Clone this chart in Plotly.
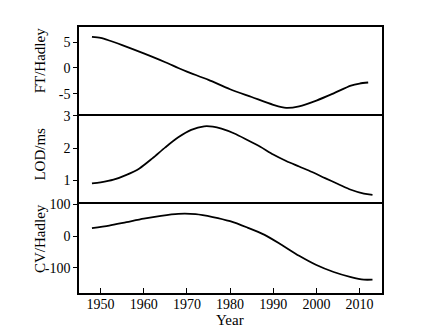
import plotly.graph_objects as go
from plotly.subplots import make_subplots

ft_years = [1948, 1950, 1952, 1955, 1960, 1965, 1968, 1970, 1975, 1980, 1985, 1990, 1993, 1996, 2000, 2004, 2008, 2010, 2012]
ft_vals = [6.0, 5.8, 5.3, 4.4, 2.8, 1.1, 0.0, -0.7, -2.3, -4.1, -5.6, -7.1, -7.7, -7.4, -6.3, -4.9, -3.4, -3.0, -2.8]

lod_years = [1948, 1950, 1953, 1956, 1959, 1962, 1965, 1968, 1971, 1974, 1976, 1978, 1981, 1984, 1987, 1990, 1993, 1996, 1999, 2002, 2005, 2008, 2011, 2013]
lod_vals = [0.91, 0.94, 1.02, 1.17, 1.37, 1.68, 2.02, 2.33, 2.56, 2.67, 2.66, 2.60, 2.45, 2.25, 2.04, 1.80, 1.60, 1.43, 1.26, 1.07, 0.89, 0.71, 0.59, 0.55]

cv_years = [1948, 1952, 1956, 1960, 1964, 1968, 1972, 1976, 1980, 1984, 1988, 1992, 1996, 2000, 2004, 2008, 2011, 2013]
cv_vals = [25, 33, 44, 55, 64, 70, 69, 60, 47, 27, 4, -28, -62, -91, -113, -129, -137, -137]

panel_titles = ["FT/Hadley", "LOD/ms", "CV/Hadley"]
x_ticks = [1950, 1960, 1970, 1980, 1990, 2000, 2010]
y_tick_vals = [[5, 0, -5], [3, 2, 1], [100, 0, -100]]
y_tick_text = [["5", "0", "-5"], ["3", "2", "1"], ["100", "0", "-100"]]

fig = make_subplots(rows=3, cols=1, shared_xaxes=True, vertical_spacing=0)

series = [(ft_years, ft_vals), (lod_years, lod_vals), (cv_years, cv_vals)]
for i, (xs, ys) in enumerate(series, start=1):
    fig.add_trace(go.Scatter(x=xs, y=ys, mode="lines",
                             line=dict(color="black", width=1.8, shape="spline", smoothing=0.8),
                             showlegend=False), row=i, col=1)

fam = "Liberation Serif, Times New Roman, serif"
font = dict(family=fam, size=14, color="black")

ranges = [[-9.2, 7.9], [0.26, 3.0], [-179, 100]]
for i in range(3):
    fig.update_yaxes(range=ranges[i], tickvals=y_tick_vals[i], ticktext=y_tick_text[i],
                     ticks="outside", ticklen=4,
                     tickwidth=1.2, tickcolor="black", showline=True, linecolor="black",
                     linewidth=1.5, mirror=True, showgrid=False, zeroline=False,
                     tickfont=font, row=i + 1, col=1)
    if i < 2:
        fig.update_xaxes(range=[1945, 2015.2], showline=True, linecolor="black", linewidth=1.8,
                         side="top", mirror=False, showgrid=False, zeroline=False,
                         ticks="", showticklabels=False, row=i + 1, col=1)
    else:
        fig.update_xaxes(range=[1945, 2015.2], showline=True, linecolor="black", linewidth=1.5,
                         mirror=True, showgrid=False, zeroline=False,
                         ticks="inside", ticklen=5, tickwidth=1.2, tickcolor="black",
                         tickvals=x_ticks, showticklabels=True, tickfont=font,
                         ticklabelstandoff=-3, row=i + 1, col=1)

# The page body adds an 8px offset; the figure is sized so the plot lands where the reference has it.
OFF = 8
W, H = 424 - OFF, 334 - OFF
L, R, T, B = 79 - OFF, 42, 22 - OFF, 41
pw, ph = W - L - R, H - T - B


def px_x(sx):
    return (sx - OFF - L) / pw


def px_y(sy):
    return 1 - (sy - OFF - T) / ph


title_y_px = [57, 152, 238]
for txt, ypx in zip(panel_titles, title_y_px):
    fig.add_annotation(text=txt, xref="paper", yref="paper",
                       x=px_x(40), y=px_y(ypx),
                       xanchor="center", yanchor="middle", textangle=-90,
                       showarrow=False, font=dict(family=fam, size=15, color="black"))
fig.add_annotation(text="Year", xref="paper", yref="paper",
                   x=px_x(230), y=px_y(321),
                   xanchor="center", yanchor="middle", showarrow=False,
                   font=dict(family=fam, size=15, color="black"))

fig.update_layout(width=W, height=H, margin=dict(l=L, r=R, t=T, b=B),
                  plot_bgcolor="white", paper_bgcolor="white", font=font)

fig.write_html("out.html")
